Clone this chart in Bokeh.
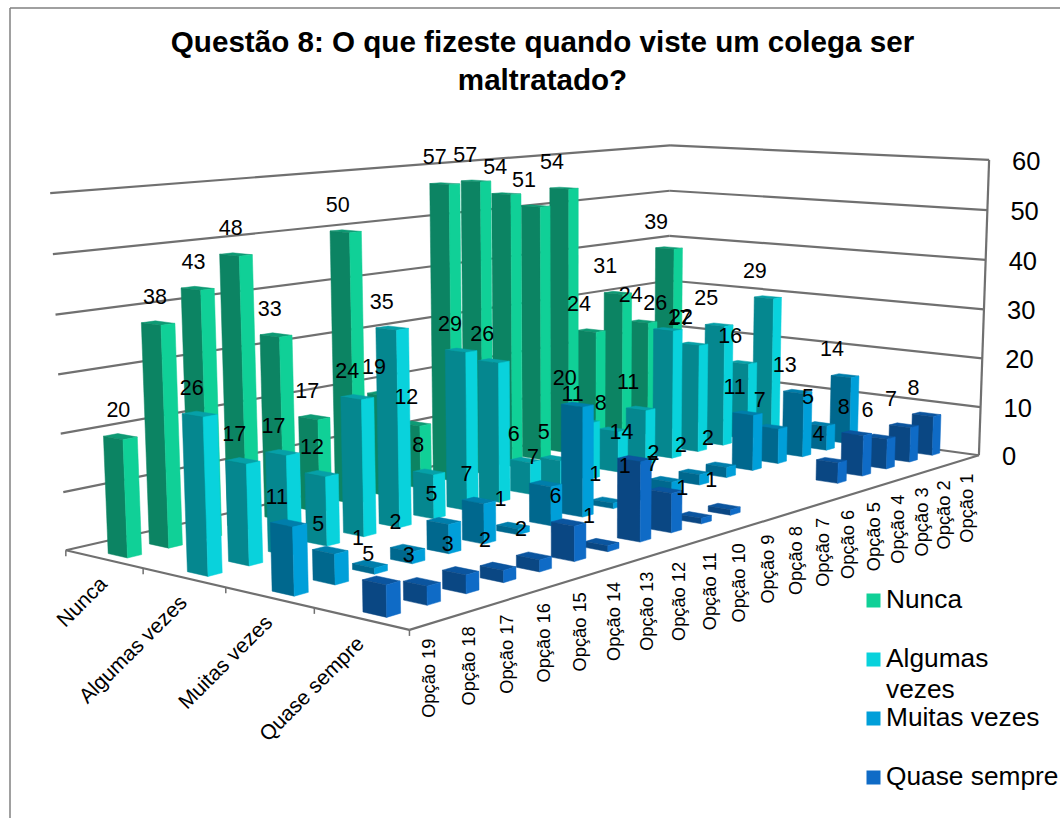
import numpy as np
from bokeh.plotting import figure
from bokeh.embed import file_html
from bokeh.resources import INLINE
from bokeh.core.properties import value as fv

TITLE = ["Questão 8: O que fizeste quando viste um colega ser", "maltratado?"]
SERIES = ["Nunca", "Algumas vezes", "Muitas vezes", "Quase sempre"]
OPTIONS = [f"Opção {i}" for i in range(1, 20)]
TICKS = [0, 10, 20, 30, 40, 50, 60]

# values listed from Opção 19 down to Opção 1
NUNCA = [20, 38, 43, 48, 33, 17, 50, 19, 12, 57, 57, 54, 51, 54, 24, 31, 24, 39, 17]
ALGUMAS = [26, 17, 17, 12, 24, 35, 8, 29, 26, 6, 5, 11, 8, 11, 26, 22, 25, 16, 29]
MUITAS = [11, 5, 1, 2, 5, 7, 1, 7, 20, 1, 1, 2, 2, 2, 11, 7, 13, 5, 14]
QUASE = [5, 3, 3, 2, 2, 6, 1, 14, 7, 1, 1, None, None, None, 4, 8, 6, 7, 8]
DATA = [NUNCA, ALGUMAS, MUITAS, QUASE]

DARK = ["#0C8463", "#05878F", "#00688E", "#0A4783"]
LIGHT = ["#10D097", "#09D2DC", "#009FD9", "#0F6BC6"]
TOP = ["#0E9A74", "#06A0A8", "#007EAB", "#0B559F"]
LINE = "#707070"
FONT = "Liberation Sans"

# camera: (option position, series position, value) -> page pixel, fitted by DLT
CAM_WORLD = [(19, 0, 0), (19, 4, 0), (0, 4, 0), (0, 0, 0), (19, 0, 60), (0, 0, 60), (0, 4, 60)]
CAM_PIXEL = [(65, 548), (409, 631), (978, 453), (668, 414), (50, 193), (669, 144), (989, 160)]
A = []
for (X, Y, Z), (x, y) in zip(CAM_WORLD, CAM_PIXEL):
    A.append([X, Y, Z, 1, 0, 0, 0, 0, -x * X, -x * Y, -x * Z, -x])
    A.append([0, 0, 0, 0, X, Y, Z, 1, -y * X, -y * Y, -y * Z, -y])
P = np.linalg.svd(np.array(A, float))[2][-1].reshape(3, 4)


def pr(u, v, z):
    q = P @ np.array([u, v, z, 1.0])
    return q[0] / q[2], q[1] / q[2]


p = figure(width=1060, height=818, x_range=(0, 1060), y_range=(818, 0), output_backend="svg",
           toolbar_location=None, min_border=0, outline_line_color=None)
p.axis.visible = False
p.grid.visible = False


def seg(a, b, w=2.2, col=LINE):
    p.line([a[0], b[0]], [a[1], b[1]], line_color=col, line_width=w)


def txt(x, y, t, size, align="center", base="middle", angle=0.0, bold=False, col="#000000"):
    p.text([x], [y], text=[t], text_font=fv(FONT), text_font_size=f"{size}px", text_align=align,
           text_baseline=base, angle=angle, text_color=col, text_font_style="bold" if bold else "normal")


# chart border
seg((9.5, 7.5), (9.5, 818), 1.5, "#808080")
seg((9.5, 7.5), (1060, 7.5), 1.5, "#808080")

# walls and floor
for t in TICKS:
    seg(pr(19, 0, t), pr(0, 0, t))
    seg(pr(0, 0, t), pr(0, 4, t))
seg(pr(0, 4, 0), pr(0, 4, 60))
seg(pr(19, 0, 0), pr(19, 4, 0))
seg(pr(19, 4, 0), pr(0, 4, 0))
for s in range(5):
    a = pr(19, s, 0)
    seg(a, (a[0], a[1] + 6), 1.5)

DU, DV = 0.17, 0.125
labels = []
order = [(s, k) for s in range(4) for k in range(18, -1, -1)]
for s, k in order:
    val = DATA[s][k]
    if val is None:
        continue
    u, v = 18.5 - k, s + 0.5
    u0, u1, v0, v1 = u - DU, u + DU, v - DV, v + DV
    top = [pr(u0, v0, val), pr(u1, v0, val), pr(u1, v1, val), pr(u0, v1, val)]
    left = [pr(u1, v0, 0), pr(u1, v1, 0), pr(u1, v1, val), pr(u1, v0, val)]
    right = [pr(u1, v1, 0), pr(u0, v1, 0), pr(u0, v1, val), pr(u1, v1, val)]
    for face, col in ((top, TOP[s]), (left, DARK[s]), (right, LIGHT[s])):
        p.patch([q[0] for q in face], [q[1] for q in face], fill_color=col, line_color=col, line_width=0.5)
    extra = 11 * (u / 18.5) ** 2 * ((3 - s) / 3) ** 2
    labels.append((pr(u, v, val), val, extra))

for (x, y), val, extra in labels:
    txt(x - 13 + extra, y - 27, str(val), 21.5)

# value axis
for t in TICKS:
    x, y = pr(0, 4, t)
    txt(x + 23, y + 1, str(t), 25.5, align="left")

# option axis
for i, name in enumerate(OPTIONS):
    x, y = pr(i + 0.5, 4, 0)
    txt(x - 2, y + 15, name, 18.3, align="right", angle=np.pi / 2)

# series axis
for s, name in enumerate(SERIES):
    x, y = pr(19, s + 0.5, 0)
    txt(x - 1, y + 21, name, 21, align="right", angle=np.pi / 4)

# title
txt(542, 41, TITLE[0], 29.6, bold=True)
txt(542, 79, TITLE[1], 29.6, bold=True)

# legend
LEG_Y = [600, 659, 718, 777]
LEG_TEXT = [["Nunca"], ["Algumas", "vezes"], ["Muitas vezes"], ["Quase sempre"]]
for s in range(4):
    p.quad(left=[866], right=[880], top=[LEG_Y[s] - 7], bottom=[LEG_Y[s] + 7], fill_color=LIGHT[s], line_color=None)
    for j, line in enumerate(LEG_TEXT[s]):
        txt(885.5, LEG_Y[s] - 2 + j * 31, line, 26.3, align="left")

open("out.html", "w").write(file_html(p, INLINE))
